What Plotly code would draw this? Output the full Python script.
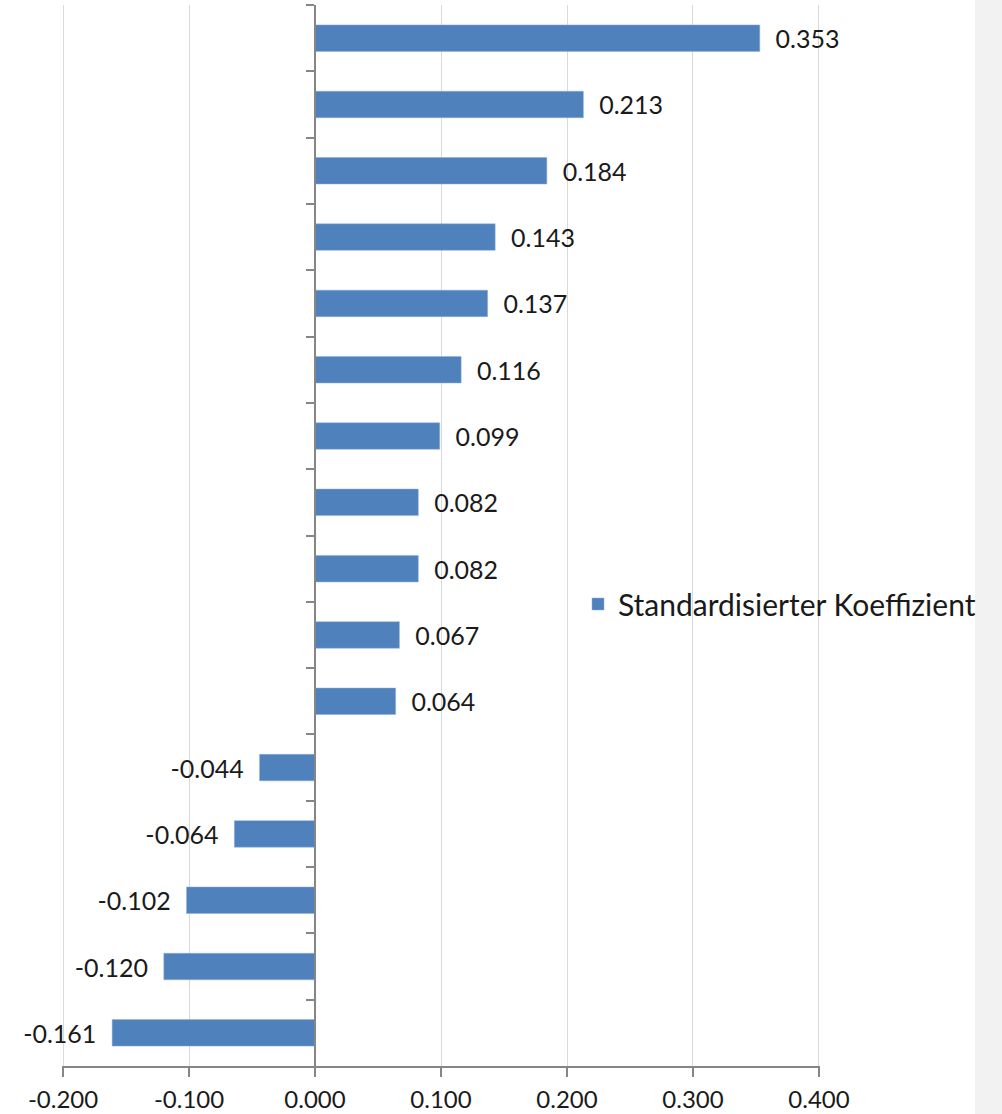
import plotly.graph_objects as go

# Data (top to bottom as in the reference)
items = [f"Variable {i}" for i in range(1, 17)]
coefficients = [0.353, 0.213, 0.184, 0.143, 0.137, 0.116, 0.099, 0.082,
                0.082, 0.067, 0.064, -0.044, -0.064, -0.102, -0.120, -0.161]
series_name = "Standardisierter Koeffizient"
x_ticks = [-0.2, -0.1, 0.0, 0.1, 0.2, 0.3, 0.4]
x_tick_labels = [f"{v:.3f}" for v in x_ticks]

labels = [f"  {v:.3f}" if v >= 0 else f"{v:.3f}  " for v in coefficients]

fig = go.Figure()
fig.add_trace(go.Bar(
    x=coefficients, y=items, orientation="h", name=series_name,
    marker=dict(color="#4f81bd", line=dict(color="#8eaedb", width=0.5)),
    text=labels, textposition="outside", cliponaxis=False,
    constraintext="none",
    textfont=dict(family="Lato", size=25, color="#1a1a1a"),
    showlegend=True,
))

W, H = 1002, 1114
ml, mr, mt, mb = 62, 182, 5, 48
pw = W - ml - mr
ph = H - mt - mb

fig.update_layout(
    width=W, height=H,
    margin=dict(l=ml, r=mr, t=mt, b=mb),
    paper_bgcolor="white", plot_bgcolor="white",
    bargap=0.6,
    font=dict(family="Lato", size=24, color="#1a1a1a"),
    xaxis=dict(
        range=[-0.2008, 0.4008], tickvals=x_ticks, ticktext=x_tick_labels,
        showgrid=True, gridcolor="#d9d9d9", gridwidth=1.2,
        zeroline=False, automargin=False,
        showline=True, linecolor="#868686", linewidth=1.5,
        ticks="outside", ticklen=9, tickcolor="#868686", tickwidth=1.5,
        ticklabelstandoff=2,
        tickfont=dict(family="Lato", size=24, color="#1a1a1a"),
    ),
    yaxis=dict(
        type="category", autorange="reversed", automargin=False,
        anchor="free", position=(0 - (-0.2008)) / 0.6016,
        showline=True, linecolor="#868686", linewidth=1.5,
        ticks="outside", ticklen=8, tickcolor="#868686", tickwidth=1.5,
        tickson="boundaries", showticklabels=False, showgrid=False,
        zeroline=False,
    ),
    legend=dict(
        x=(578 - ml) / pw, y=(H - mb - 604) / ph, xanchor="left", yanchor="middle",
        bgcolor="rgba(0,0,0,0)", font=dict(family="Lato", size=30, color="#1a1a1a"),
        itemwidth=30,
    ),
    shapes=[dict(
        type="rect", xref="paper", yref="paper", layer="below",
        x0=(975 - ml) / pw, x1=(W - ml) / pw + 0.05,
        y0=-0.1, y1=1.1, fillcolor="#f2f2f2", line=dict(width=0),
    )],
)

fig.write_html(
    "out.html",
    config={"displayModeBar": False},
    post_script="document.body.style.margin='0';document.body.style.overflow='hidden';",
)
